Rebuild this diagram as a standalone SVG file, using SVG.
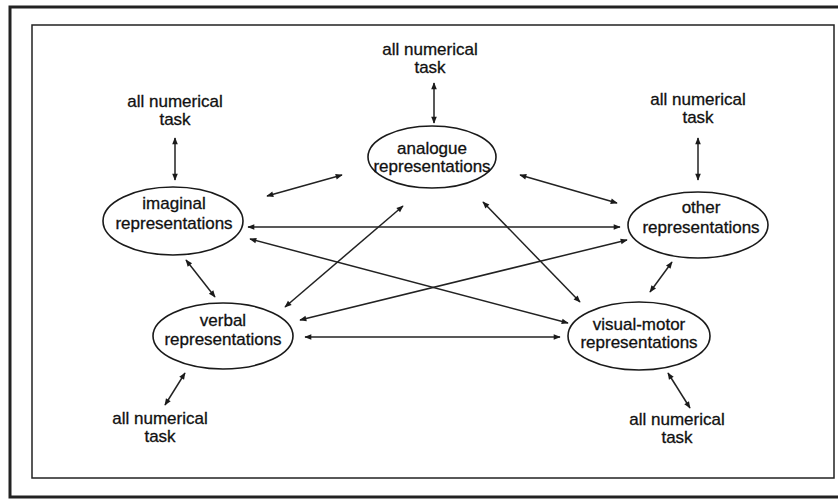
<svg xmlns="http://www.w3.org/2000/svg" width="838" height="500" viewBox="0 0 838 500">
<style>
.t{font-family:"Liberation Sans",Arial,sans-serif;font-size:17px;fill:#111;stroke:#111;stroke-width:0.3;text-anchor:middle}
.e{fill:#fff;stroke:#1a1a1a;stroke-width:1.6}
.c line{stroke:#222;stroke-width:1.5;marker-start:url(#ah);marker-end:url(#ah)}
</style>
<defs>
<marker id="ah" viewBox="0 0 10 10" refX="9" refY="5" markerWidth="9" markerHeight="7" markerUnits="userSpaceOnUse" orient="auto-start-reverse">
<path d="M0,1 L10,5 L0,9 z" fill="#1a1a1a"/>
</marker>
</defs>
<rect width="838" height="500" fill="#fff"/>
<g id="frame" fill="none" stroke="#222">
<path d="M840,7 H10 V497 H840" stroke-width="3"/>
<rect x="32" y="25" width="802" height="453" stroke-width="1.5"/>
</g>
<g class="c" id="connectors">
<line x1="175" y1="138" x2="175" y2="180"/>
<line x1="434" y1="83" x2="434" y2="123"/>
<line x1="698" y1="138" x2="698" y2="180"/>
<line x1="185" y1="373" x2="165" y2="405"/>
<line x1="668" y1="373" x2="690" y2="408"/>
<line x1="267" y1="196" x2="342" y2="175"/>
<line x1="520" y1="175" x2="617" y2="203"/>
<line x1="248" y1="227" x2="620" y2="227"/>
<line x1="250" y1="239" x2="568" y2="323"/>
<line x1="285" y1="307" x2="403" y2="206"/>
<line x1="300" y1="320" x2="627" y2="240"/>
<line x1="483" y1="202" x2="580" y2="302"/>
<line x1="305" y1="337" x2="560" y2="337"/>
<line x1="186" y1="260" x2="215" y2="297"/>
<line x1="672" y1="262" x2="650" y2="292"/>
</g>
<g id="imaginal">
<ellipse class="e" cx="173" cy="221" rx="70" ry="34"/>
<text class="t" x="174" y="209">imaginal</text>
<text class="t" x="174" y="229">representations</text>
</g>
<g id="analogue">
<ellipse class="e" cx="432" cy="157" rx="64" ry="31"/>
<text class="t" x="432" y="154">analogue</text>
<text class="t" x="432" y="172">representations</text>
</g>
<g id="other">
<ellipse class="e" cx="698" cy="225" rx="70" ry="33"/>
<text class="t" x="701" y="213">other</text>
<text class="t" x="701" y="233">representations</text>
</g>
<g id="verbal">
<ellipse class="e" cx="223" cy="336" rx="70" ry="33"/>
<text class="t" x="223" y="326">verbal</text>
<text class="t" x="223" y="345">representations</text>
</g>
<g id="visual-motor">
<ellipse class="e" cx="639" cy="336" rx="71" ry="34"/>
<text class="t" x="639" y="330">visual-motor</text>
<text class="t" x="639" y="348">representations</text>
</g>
<g id="task-imaginal">
<text class="t" x="175" y="107">all numerical</text>
<text class="t" x="175" y="125">task</text>
</g>
<g id="task-analogue">
<text class="t" x="430" y="55">all numerical</text>
<text class="t" x="430" y="73">task</text>
</g>
<g id="task-other">
<text class="t" x="698" y="105">all numerical</text>
<text class="t" x="698" y="123">task</text>
</g>
<g id="task-verbal">
<text class="t" x="160" y="424">all numerical</text>
<text class="t" x="160" y="442">task</text>
</g>
<g id="task-visual">
<text class="t" x="677" y="425">all numerical</text>
<text class="t" x="677" y="443">task</text>
</g>
</svg>
